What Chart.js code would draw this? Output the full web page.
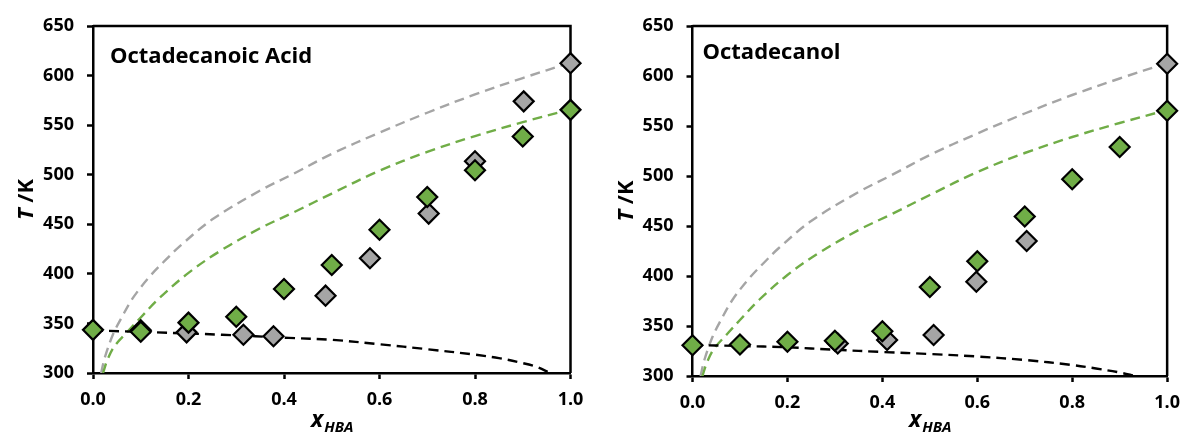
<!DOCTYPE html>
<html>
<head>
<meta charset="utf-8">
<title>SLE phase diagrams</title>
<script src="https://cdn.jsdelivr.net/npm/chart.js@4.4.1/dist/chart.umd.min.js"></script>
<style>
  html, body { margin: 0; padding: 0; background: #fff; }
  .wrap { display: flex; width: 1190px; height: 433px; }
  .panel { position: relative; width: 595px; height: 433px; }
</style>
</head>
<body>
<div class="wrap">
  <div class="panel"><canvas id="acidChart"></canvas></div>
  <div class="panel"><canvas id="alcoholChart"></canvas></div>
</div>
<script>
// Axis ticks (shared by both panels)
const xTicks = [0, 0.2, 0.4, 0.6, 0.8, 1.0];
const yTicks = [300, 350, 400, 450, 500, 550, 600, 650];

// Octadecanoic acid panel - experimental points
const acidGrayX = [0.1, 0.196, 0.315, 0.378, 0.487, 0.58, 0.703, 0.8, 0.902, 1.0];
const acidGrayT = [343, 341, 338.6, 337, 378, 415.8, 460.8, 513.5, 574, 612.5];
const acidGreenX = [0, 0.1, 0.2, 0.3, 0.4, 0.5, 0.6, 0.7, 0.8, 0.9, 1.0];
const acidGreenT = [343.5, 341.6, 350.8, 356.8, 384.7, 409, 444.5, 477.5, 504.5, 538.5, 565.4];
// Octadecanoic acid panel - liquidus of the HBD (black dashed)
const acidLiqX = [0, 0.13, 0.27, 0.41, 0.5, 0.6, 0.7, 0.8, 0.85, 0.9, 0.93, 0.957];
const acidLiqT = [343, 341, 338.6, 335.4, 333.5, 329, 324, 318.5, 315, 310, 306, 300];

// Octadecanol panel - experimental points
const olGrayX = [0.306, 0.41, 0.508, 0.598, 0.704, 1.0];
const olGrayT = [332.5, 336, 341, 394.3, 435, 612.3];
const olGreenX = [0, 0.1, 0.2, 0.3, 0.4, 0.5, 0.6, 0.7, 0.8, 0.9, 1.0];
const olGreenT = [330.8, 331.5, 334.3, 335.3, 344.8, 389, 414.8, 459.5, 496.7, 529, 565.3];
// Octadecanol panel - liquidus of the HBD (black dashed)
const olLiqX = [0, 0.1, 0.2, 0.3, 0.4, 0.5, 0.6, 0.7, 0.8, 0.85, 0.9, 0.933];
const olLiqT = [331, 330, 328.7, 326.3, 324, 322, 319.5, 316, 311, 307.5, 303.5, 300];

// Ideal liquidus of the two HBAs (same in both panels)
const idealGrayX = [0.017, 0.025, 0.042, 0.06, 0.084, 0.12, 0.15, 0.182, 0.25, 0.35, 0.42, 0.5, 0.6, 0.7, 0.8, 0.9, 1.0];
const idealGrayT = [300, 316, 339, 356, 376, 398, 413, 428, 455, 484, 501, 521, 542.5, 562.5, 581, 597.5, 613];
const idealGreenX = [0.021, 0.03, 0.045, 0.073, 0.1, 0.14, 0.2, 0.266, 0.35, 0.42, 0.5, 0.6, 0.7, 0.8, 0.9, 1.0];
const idealGreenT = [300, 313, 327, 342, 356, 376, 401, 423, 446, 462, 481, 504, 523, 539, 553, 566];

const GREEN = '#70ad47';
const GRAY = '#a5a5a5';
const FONT = "'Open Sans', sans-serif";

function toPoints(xs, ys) {
  return xs.map((x, i) => ({ x: x, y: ys[i] }));
}

function markerSet(xs, ys, color) {
  return {
    data: toPoints(xs, ys),
    showLine: false,
    pointStyle: 'rectRot',
    pointRadius: 10,
    pointBorderWidth: 2.2,
    pointBorderColor: '#000',
    pointBackgroundColor: color,
    clip: false
  };
}

function curveSet(xs, ys, color) {
  return {
    data: toPoints(xs, ys),
    showLine: true,
    pointRadius: 0,
    borderColor: color,
    borderWidth: 2.4,
    borderDash: [10, 6],
    tension: 0.35,
    fill: false
  };
}

// box frame, panel label and axis titles (x with subscript, italic T)
const panelDecor = {
  id: 'panelDecor',
  beforeDatasetsDraw(chart) {
    const a = chart.chartArea, ctx = chart.ctx;
    ctx.save();
    ctx.strokeStyle = '#000';
    ctx.lineWidth = 2.5;
    ctx.beginPath();
    ctx.moveTo(a.left, a.top);
    ctx.lineTo(a.right, a.top);
    ctx.lineTo(a.right, a.bottom);
    ctx.stroke();
    ctx.restore();
  },
  afterDraw(chart, args, opts) {
    const a = chart.chartArea, ctx = chart.ctx;
    ctx.save();
    ctx.fillStyle = '#000';
    ctx.textBaseline = 'alphabetic';
    ctx.textAlign = 'left';

    // panel label
    ctx.font = 'bold 22px ' + FONT;
    ctx.fillText(opts.label, a.left + opts.labelDx, a.top + opts.labelDy);

    // x title: x_HBA
    const cx = (a.left + a.right) / 2;
    ctx.font = 'italic bold 23px ' + FONT;
    const wx = ctx.measureText('x').width;
    ctx.font = 'italic bold 15px ' + FONT;
    const ws = ctx.measureText('HBA').width;
    const x0 = cx - (wx + ws) / 2;
    const by = chart.height - 6;
    ctx.font = 'italic bold 23px ' + FONT;
    ctx.fillText('x', x0, by);
    ctx.font = 'italic bold 15px ' + FONT;
    ctx.fillText('HBA', x0 + wx + 1, by + 5);

    // y title: T /K
    ctx.translate(a.left - 60, (a.top + a.bottom) / 2);
    ctx.rotate(-Math.PI / 2);
    ctx.font = 'italic bold 22px ' + FONT;
    const wt = ctx.measureText('T').width;
    ctx.font = 'bold 22px ' + FONT;
    const wk = ctx.measureText(' /K').width;
    const t0 = -(wt + wk) / 2;
    ctx.font = 'italic bold 22px ' + FONT;
    ctx.fillText('T', t0, 0);
    ctx.font = 'bold 22px ' + FONT;
    ctx.fillText(' /K', t0 + wt, 0);
    ctx.restore();
  }
};

function makePanel(id, label, labelDx, labelDy, sets, yWidth, xHeight, rightPad) {
  const tickFont = { family: FONT, size: 18, weight: 'bold' };
  const axisGrid = {
    drawOnChartArea: false,
    drawTicks: true,
    tickLength: 6,
    tickWidth: 2.5,
    color: '#000'
  };
  new Chart(document.getElementById(id), {
    type: 'scatter',
    data: { datasets: sets },
    options: {
      responsive: true,
      maintainAspectRatio: false,
      animation: false,
      layout: { padding: { top: 26, right: rightPad, left: 0, bottom: 0 } },
      scales: {
        x: {
          type: 'linear',
          min: 0,
          max: 1,
          afterBuildTicks: s => { s.ticks = xTicks.map(v => ({ value: v })); },
          afterFit: s => { s.height = xHeight; },
          ticks: {
            font: tickFont,
            color: '#000',
            padding: 10,
            maxRotation: 0,
            callback: v => Number(v).toFixed(1)
          },
          grid: axisGrid,
          border: { display: true, color: '#000', width: 2.5 }
        },
        y: {
          type: 'linear',
          min: 300,
          max: 650,
          afterBuildTicks: s => { s.ticks = yTicks.map(v => ({ value: v })); },
          afterFit: s => { s.width = yWidth; },
          ticks: { font: tickFont, color: '#000', padding: 13 },
          grid: axisGrid,
          border: { display: true, color: '#000', width: 2.5 }
        }
      },
      plugins: {
        legend: { display: false },
        tooltip: { enabled: false },
        panelDecor: { label: label, labelDx: labelDx, labelDy: labelDy }
      }
    },
    plugins: [panelDecor]
  });
}

makePanel('acidChart', 'Octadecanoic Acid', 17, 37, [
  markerSet(acidGreenX, acidGreenT, GREEN),
  markerSet(acidGrayX, acidGrayT, GRAY),
  curveSet(acidLiqX, acidLiqT, '#000'),
  curveSet(idealGreenX, idealGreenT, GREEN),
  curveSet(idealGrayX, idealGrayT, GRAY)
], 93, 60, 24.5);

makePanel('alcoholChart', 'Octadecanol', 10, 33, [
  markerSet(olGreenX, olGreenT, GREEN),
  markerSet(olGrayX, olGrayT, GRAY),
  curveSet(olLiqX, olLiqT, '#000'),
  curveSet(idealGreenX, idealGreenT, GREEN),
  curveSet(idealGrayX, idealGrayT, GRAY)
], 97.5, 57, 18);
</script>
</body>
</html>
